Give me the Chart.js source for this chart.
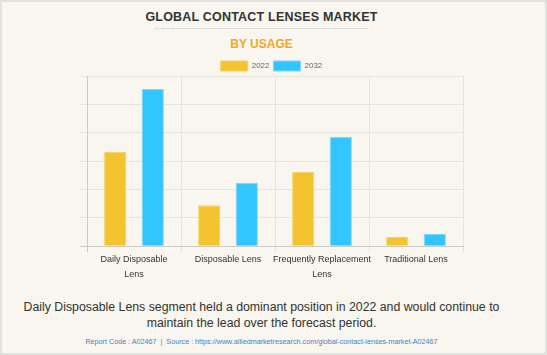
<!DOCTYPE html>
<html>
<head>
<meta charset="utf-8">
<script src="https://cdn.jsdelivr.net/npm/chart.js@4.4.0/dist/chart.umd.min.js"></script>
<style>
  html, body { margin:0; padding:0; }
  body { width:547px; height:355px; position:relative; overflow:hidden; background:#F8F6EE; font-family:"Liberation Sans", Arial, sans-serif; }
  #frame { position:absolute; left:0; top:0; width:543px; height:351px; border:2px solid #E2E2E0; }
  .t { position:absolute; left:0; width:523px; text-align:center; }
  #title { top:10px; font-weight:bold; font-size:12.5px; color:#333; letter-spacing:0.2px; }
  #rule { position:absolute; left:154px; width:214px; top:28px; height:1px; background:#DCDCDA; }
  #sub { top:37px; font-weight:bold; font-size:12px; color:#F5A623; }
  #cap { top:299px; font-size:12.3px; line-height:16px; color:#333; }
  #foot { top:337px; font-size:7.2px; color:#4A7FC1; }
  #wrap { position:absolute; left:0; top:0; width:547px; height:290px; }
</style>
</head>
<body>
<div id="frame"></div>
<div id="title" class="t">GLOBAL CONTACT LENSES MARKET</div>
<div id="rule"></div>
<div id="sub" class="t">BY USAGE</div>
<div id="wrap"><canvas id="c" width="547" height="290"></canvas></div>
<div id="cap" class="t">Daily Disposable Lens segment held a dominant position in 2022 and would continue to<br>maintain the lead over the forecast period.</div>
<div id="foot" class="t">Report Code : A02467 &nbsp;|&nbsp; Source : https://www.alliedmarketresearch.com/global-contact-lenses-market-A02467</div>
<script>
const categories = [["Daily Disposable","Lens"], "Disposable Lens", ["Frequently Replacement","Lens"], "Traditional Lens"];
const seriesNames = ["2022", "2032"];
const values2022 = [3.33, 1.45, 2.63, 0.33];
const values2032 = [5.54, 2.24, 3.86, 0.43];
const yTicksMax = 6;

const gridColor = "#E6E4DD";
const axisColor = "#CDCBC5";
const legendHeightFix = {
  id: "legendHeightFix",
  beforeUpdate(chart) {
    const lg = chart.legend;
    if (lg && !lg._patched) {
      const f = lg.fit.bind(lg);
      lg.fit = function () { f(); this.height = 19; };
      lg._patched = true;
    }
  }
};
new Chart(document.getElementById("c"), {
  type: "bar",
  data: {
    labels: categories,
    datasets: [
      { label: seriesNames[0], data: values2022, backgroundColor: "#F4C430", borderColor: "#F6D263", borderWidth: 1 },
      { label: seriesNames[1], data: values2032, backgroundColor: "#33C5FF", borderColor: "#7AD7FF", borderWidth: 1 }
    ]
  },
  plugins: [legendHeightFix],
  options: {
    responsive: false,
    animation: false,
    devicePixelRatio: 1,
    datasets: { bar: { categoryPercentage: 0.8, barPercentage: 0.59 } },
    layout: { padding: { left: 80, right: 84, top: 57, bottom: 8 } },
    plugins: {
      legend: {
        position: "top",
        labels: { boxWidth: 27, boxHeight: 10, padding: 4, color: "#666", font: { family: "Liberation Sans", size: 8 } }
      },
      tooltip: { enabled: false }
    },
    scales: {
      x: {
        offset: true,
        grid: {
          offset: true, tickLength: 6,
          color: (ctx) => ctx.index === 0 ? axisColor : (ctx.index >= categories.length ? "rgba(0,0,0,0)" : gridColor)
        },
        border: { color: axisColor },
        ticks: { color: "#333", font: { family: "Liberation Sans", size: 9, lineHeight: 1.65 }, padding: 0, maxRotation: 0, autoSkip: false }
      },
      y: {
        min: 0, max: yTicksMax,
        ticks: { display: false, stepSize: 1 },
        grid: { tickLength: 7, color: (ctx) => (ctx.tick && ctx.tick.value === 0) ? axisColor : gridColor },
        border: { color: axisColor },
        afterFit: (s) => { s.width = 7; }
      }
    }
  }
});
</script>
</body>
</html>
